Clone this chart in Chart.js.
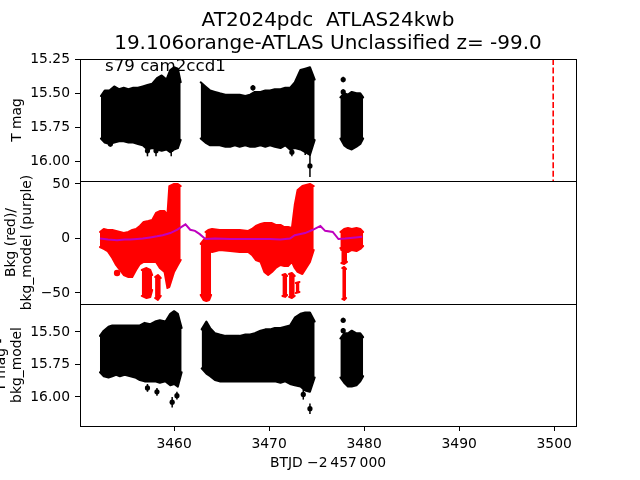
<!DOCTYPE html>
<html><head><meta charset="utf-8">
<script src="https://cdn.jsdelivr.net/npm/chart.js@4.4.1/dist/chart.umd.min.js"></script>
<style>
html,body{margin:0;padding:0;background:#fff;}
#wrap{position:relative;width:640px;height:480px;}
canvas{position:absolute;left:0;top:0;}
</style></head><body>
<div id="wrap">
<canvas id="c1" width="640" height="480"></canvas>
<canvas id="c2" width="640" height="480"></canvas>
<canvas id="c3" width="640" height="480"></canvas>
</div>
<script>
// ---------- text ----------
const titleLines = ['AT2024pdc  ATLAS24kwb', '19.106orange-ATLAS Unclassified z= -99.0'];
const sectorLabel = 's79 cam2ccd1';
const yLabelTop = 'T mag';
const yLabelMid = ['Bkg (red)/', 'bkg_model (purple)'];
const yLabelBot = ['T mag -', 'bkg_model'];
const xLabel = 'BTJD \u22122\u2009457\u2009000';

// ---------- axes ----------
const xMin = 3450.1, xMax = 3502.3;
const xTicks = [3460, 3470, 3480, 3490, 3500];
const topMin = 15.25, topMax = 16.14;
const topTicks = [15.25, 15.50, 15.75, 16.00];
const midMin = -60.1, midMax = 52.75;
const midTicks = [-50, 0, 50];
const botMin = 15.285, botMax = 16.223;
const botTicks = [15.50, 15.75, 16.00];
const discoveryT = 3499.9;

// ---------- top panel: T mag envelope (bright edge / faint edge) ----------
const magSeg1T = [3452.3,3452.7,3453.2,3453.7,3454.2,3454.7,3455.2,3455.7,3456.2,3456.7,3457.2,3457.7,3458.2,3458.7,3459.2,3459.6,3460.0,3460.4,3460.7];
const magSeg1Bright = [15.52,15.48,15.48,15.45,15.47,15.46,15.47,15.46,15.46,15.45,15.44,15.43,15.39,15.37,15.40,15.33,15.31,15.32,15.42];
const magSeg1Faint = [15.83,15.86,15.87,15.86,15.85,15.85,15.86,15.86,15.87,15.88,15.91,15.90,15.91,15.92,15.91,15.93,15.91,15.90,15.84];
const magSeg2T = [3462.8,3463.3,3463.8,3464.3,3464.8,3465.4,3465.9,3466.4,3466.9,3467.5,3468.0,3468.5,3469.1,3469.6,3470.1,3470.6,3471.2,3471.7,3472.2,3472.7,3473.3,3473.8,3474.3,3474.8];
const magSeg2Bright = [15.42,15.45,15.48,15.49,15.50,15.51,15.51,15.51,15.51,15.52,15.51,15.49,15.49,15.48,15.48,15.47,15.47,15.46,15.46,15.42,15.33,15.32,15.31,15.40];
const magSeg2Faint = [15.83,15.86,15.88,15.88,15.88,15.89,15.89,15.88,15.89,15.88,15.89,15.89,15.88,15.89,15.88,15.89,15.90,15.88,15.91,15.90,15.91,15.93,15.95,15.84];
const magSeg3T = [3477.5,3477.9,3478.3,3478.7,3479.2,3479.6,3479.9];
const magSeg3Bright = [15.53,15.50,15.51,15.49,15.50,15.50,15.53];
const magSeg3Faint = [15.83,15.88,15.90,15.91,15.89,15.87,15.83];
const magOutT = [3457.2,3458.1,3459.7,3472.4,3473.8,3474.3,3468.3,3477.8,3477.8,3453.3];
const magOutV = [15.92,15.92,15.91,15.93,15.91,16.03,15.46,15.40,15.49,15.87];
const magOutE = [0.04,0.04,0.05,0.03,0.04,0.08,0.02,0.02,0.02,0.02];

// ---------- middle panel: background (red) ----------
const bkgSeg1T = [3452.2,3452.6,3453.0,3453.5,3453.9,3454.3,3454.7,3455.2,3455.6,3456.0,3456.4,3456.8,3457.3,3457.7,3458.1,3458.5,3459.0,3459.3,3459.5,3460.0,3460.4,3460.7];
const bkgSeg1Hi = [6.0,8.7,7.8,7.8,6.9,6.0,5.0,6.0,7.8,8.7,11.5,15.1,16.0,17.0,23.4,25.2,25.2,21.5,48.1,50.0,50.0,48.1];
const bkgSeg1Lo = [-7.8,-9.6,-11.5,-17.9,-24.3,-28.9,-33.5,-35.3,-35.3,-28.9,-23.4,-21.5,-21.5,-21.5,-21.5,-27.1,-30.7,-45.4,-44.5,-30.7,-24.3,-19.7];
const bkgSeg2T = [3463.3,3463.6,3464.0,3464.8,3465.9,3466.9,3467.8,3468.2,3468.6,3469.1,3469.5,3469.9,3470.3,3470.7,3471.2,3471.6,3472.0,3472.4,3472.7,3473.0,3473.5,3473.9,3474.3,3474.7];
const bkgSeg2Hi = [6.0,7.8,8.7,7.8,7.8,7.8,6.9,8.7,11.5,13.3,14.2,14.2,14.2,12.4,12.4,10.5,10.5,9.6,30.7,44.5,48.1,49.1,50.0,48.1];
const bkgSeg2Lo = [-8.7,-10.5,-12.4,-10.5,-11.5,-12.4,-12.4,-15.1,-19.7,-21.5,-30.7,-33.5,-30.7,-27.1,-24.3,-25.2,-25.2,-21.5,-27.1,-30.7,-32.6,-27.1,-21.5,-10.5];
const bkgSeg3T = [3477.5,3477.9,3478.3,3478.7,3479.2,3479.6,3479.9];
const bkgSeg3Hi = [6.0,8.7,9.6,8.7,9.6,8.7,6.0];
const bkgSeg3Lo = [-8.7,-12.4,-12.4,-10.5,-11.5,-9.6,-6.9];
// detached dips of the background
const dipAT = [3456.6,3457.1,3457.5,3457.7]; const dipAHi = [-28.9,-27.1,-28.9,-33.5]; const dipALo = [-52.7,-54.6,-53.6,-47.2];
const dipBT = [3458.0,3458.3,3458.6]; const dipBHi = [-35.3,-33.5,-36.2]; const dipBLo = [-54.6,-56.4,-52.7];
const dipCT = [3462.8,3463.1,3463.4,3463.7,3463.9]; const dipCHi = [-5.0,-1.4,0.5,2.3,-1.4]; const dipCLo = [-51.8,-56.4,-57.3,-56.4,-51.8];
const dipDT = [3471.4,3471.7,3471.9]; const dipDHi = [-33.5,-32.6,-34.4]; const dipDLo = [-52.7,-53.6,-51.8];
const dipET = [3472.1,3472.4,3472.7]; const dipEHi = [-32.6,-31.6,-34.4]; const dipELo = [-53.6,-54.6,-52.7];
const dipFT = [3472.8,3473.2]; const dipFHi = [-40.8,-39.9]; const dipFLo = [-50.0,-49.1];
const dipGT = [3477.6,3477.9,3478.2]; const dipGHi = [-10.5,-10.5,-12.4]; const dipGLo = [-22.5,-23.4,-21.5];
const dipHT = [3477.7,3477.9,3478.1]; const dipHHi = [-27.1,-26.1,-28.0]; const dipHLo = [-55.5,-56.4,-54.6];
const bkgDotT = [3454.0]; const bkgDotV = [-31.6];
// background model (purple)
const modelT = [3452.2,3453.05,3454.0,3454.8,3455.4,3456.1,3456.7,3457.5,3458.2,3458.8,3459.6,3460.3,3461.2,3461.7,3462.2,3462.7,3463.3,3464.3,3465.9,3468.0,3470.1,3471.2,3472.2,3472.7,3473.8,3474.6,3475.4,3475.9,3476.7,3477.3,3478.0,3479.1,3479.8];
const modelV = [0,-1,-1.5,-1,-1,-0.5,0,1,2,3,5,8,13,8,7,4,-0.5,0,-0.5,-0.5,-0.5,-1,0,3,5,8,11.5,7,6,-0.5,0,1,1.5];

// ---------- bottom panel: T mag - bkg_model ----------
const corSeg1T = [3452.2,3452.6,3453.1,3453.5,3453.9,3454.3,3454.8,3455.4,3455.9,3456.4,3456.9,3457.5,3458.0,3458.5,3459.1,3459.6,3460.0,3460.4,3460.8];
const corSeg1Bright = [15.53,15.49,15.46,15.45,15.45,15.45,15.45,15.45,15.45,15.45,15.43,15.44,15.42,15.41,15.42,15.36,15.34,15.36,15.47];
const corSeg1Faint = [15.81,15.84,15.85,15.84,15.83,15.84,15.83,15.84,15.85,15.87,15.88,15.88,15.88,15.89,15.88,15.91,15.90,15.92,15.81];
const corSeg2T = [3462.9,3463.4,3463.8,3464.3,3464.8,3465.4,3465.9,3466.4,3466.9,3467.5,3468.0,3468.5,3469.1,3469.6,3470.1,3470.6,3471.2,3471.7,3472.2,3472.7,3473.3,3473.8,3474.3,3474.8];
const corSeg2Bright = [15.48,15.42,15.47,15.51,15.52,15.53,15.53,15.53,15.53,15.52,15.52,15.51,15.49,15.48,15.48,15.47,15.47,15.46,15.45,15.39,15.36,15.35,15.35,15.42];
const corSeg2Faint = [15.78,15.82,15.84,15.87,15.88,15.88,15.88,15.88,15.88,15.88,15.88,15.88,15.88,15.88,15.88,15.88,15.89,15.88,15.90,15.91,15.92,15.95,15.96,15.85];
const corSeg3T = [3477.5,3477.9,3478.3,3478.7,3479.2,3479.6,3479.9];
const corSeg3Bright = [15.55,15.51,15.51,15.49,15.51,15.51,15.54];
const corSeg3Faint = [15.85,15.89,15.92,15.92,15.91,15.88,15.84];
const corOutT = [3457.2,3458.2,3459.8,3460.3,3473.6,3474.3,3477.8,3477.8];
const corOutV = [15.93,15.96,16.04,15.99,15.98,16.09,15.41,15.49];
const corOutE = [0.03,0.03,0.04,0.03,0.04,0.04,0.02,0.02];

// ---------- helpers ----------
const BLACK = '#000000', RED = '#ff0000', PURPLE = '#bf00bf';
const FONT = 'DejaVu Sans';
Chart.defaults.font.family = FONT;
Chart.defaults.font.size = 13.89;
Chart.defaults.color = '#000';

const pts = (t, v) => t.map((x, i) => ({x: x, y: v[i]}));
function band(t, hi, lo, color, bw) {
  return [
    {data: pts(t, hi), borderColor: color, backgroundColor: color, borderWidth: bw, pointRadius: 0, fill: false, tension: 0, borderJoinStyle: 'round', borderCapStyle: 'round'},
    {data: pts(t, lo), borderColor: color, backgroundColor: color, borderWidth: bw, pointRadius: 0, fill: '-1', tension: 0, borderJoinStyle: 'round', borderCapStyle: 'round'}
  ];
}
function errPoints(t, v, e) {
  return {data: pts(t, v), errs: e, showLine: false, pointRadius: 2.6, pointBackgroundColor: BLACK, pointBorderColor: BLACK, pointBorderWidth: 0, borderColor: BLACK};
}
function tickSetter(list) { return s => { s.ticks = list.map(v => ({value: v})); }; }
function xScale(show) {
  const sc = {
    type: 'linear', min: xMin, max: xMax, display: show,
    afterBuildTicks: tickSetter(xTicks),
    ticks: {padding: 5, color: '#000', callback: v => String(v), maxRotation: 0},
    grid: {drawOnChartArea: false, drawTicks: true, tickLength: 5, color: '#000', lineWidth: 1},
    border: {display: false},
    title: {display: show, text: xLabel, color: '#000', font: {size: 13.89, lineHeight: 1.2}, padding: {top: 0, bottom: 8.7}}
  };
  if (show) sc.afterFit = s => { s.height = 54; };
  return sc;
}
function yScale(min, max, list, rev, fmt, label, padTop) {
  return {
    type: 'linear', min: min, max: max, reverse: rev,
    afterBuildTicks: tickSetter(list),
    afterFit: s => { s.width = 80; },
    ticks: {padding: 5, color: '#000', callback: fmt},
    grid: {drawOnChartArea: false, drawTicks: true, tickLength: 5, color: '#000', lineWidth: 1},
    border: {display: false},
    title: {display: true, text: label, color: '#000', font: {size: 13.89, lineHeight: 1.2}, padding: {top: padTop, bottom: 0}}
  };
}
const frame = {
  id: 'frame',
  afterDraw(chart) {
    const a = chart.chartArea, c = chart.ctx;
    const l = Math.round(a.left) + 0.5, t = Math.round(a.top) + 0.5;
    const r = Math.round(a.right) + 0.5, b = Math.round(a.bottom) + 0.5;
    c.save(); c.strokeStyle = '#000'; c.lineWidth = 1;
    c.strokeRect(l, t, r - l, b - t);
    c.restore();
  }
};
const errBars = {
  id: 'errBars',
  afterDatasetsDraw(chart) {
    const c = chart.ctx, xs = chart.scales.x, ys = chart.scales.y;
    c.save(); c.strokeStyle = '#000'; c.lineWidth = 1.5;
    chart.data.datasets.forEach(ds => {
      if (!ds.errs) return;
      ds.data.forEach((p, i) => {
        const px = xs.getPixelForValue(p.x);
        c.beginPath();
        c.moveTo(px, ys.getPixelForValue(p.y - ds.errs[i]));
        c.lineTo(px, ys.getPixelForValue(p.y + ds.errs[i]));
        c.stroke();
      });
    });
    c.restore();
  }
};
const sectorText = {
  id: 'sectorText',
  afterDraw(chart) {
    const a = chart.chartArea, c = chart.ctx;
    c.save(); c.fillStyle = '#000'; c.font = '16.67px "' + FONT + '"';
    c.textAlign = 'left'; c.textBaseline = 'alphabetic';
    c.fillText(sectorLabel, a.left + 25, a.top + 12);
    c.restore();
  }
};
const common = {
  responsive: false, animation: false, events: [],
  plugins: {legend: {display: false}, tooltip: {enabled: false}}
};
const fmt2 = v => v.toFixed(2);
const fmtInt = v => (v < 0 ? '\u2212' + Math.abs(v) : String(v));

// ---------- chart 1: T mag ----------
new Chart(document.getElementById('c1'), {
  type: 'line',
  data: {datasets: [
    errPoints(magOutT, magOutV, magOutE),
    {data: [{x: discoveryT, y: topMin}, {x: discoveryT, y: topMax}], borderColor: RED, borderWidth: 1.6, borderDash: [6, 2.6], pointRadius: 0, fill: false},
    ...band(magSeg1T, magSeg1Bright, magSeg1Faint, BLACK, 2),
    ...band(magSeg2T, magSeg2Bright, magSeg2Faint, BLACK, 2),
    ...band(magSeg3T, magSeg3Bright, magSeg3Faint, BLACK, 2)
  ]},
  options: Object.assign({}, common, {
    layout: {padding: {left: 0, right: 64, top: 0, bottom: 299}},
    plugins: {legend: {display: false}, tooltip: {enabled: false},
      title: {display: true, fullSize: false, text: titleLines, color: '#000', font: {size: 20, weight: 'normal', lineHeight: 1.15}, padding: {top: 9.5, bottom: 3.5}}},
    scales: {x: xScale(false), y: yScale(topMin, topMax, topTicks, true, fmt2, yLabelTop, 8.7)}
  }),
  plugins: [frame, errBars, sectorText]
});

// ---------- chart 2: background ----------
new Chart(document.getElementById('c2'), {
  type: 'line',
  data: {datasets: [
    {data: pts(modelT, modelV), borderColor: PURPLE, borderWidth: 2, pointRadius: 0, fill: false, tension: 0},
    {data: pts(bkgDotT, bkgDotV), showLine: false, pointRadius: 3.2, pointBackgroundColor: RED, pointBorderWidth: 0},
    ...band(bkgSeg1T, bkgSeg1Hi, bkgSeg1Lo, RED, 2),
    ...band(bkgSeg2T, bkgSeg2Hi, bkgSeg2Lo, RED, 2),
    ...band(bkgSeg3T, bkgSeg3Hi, bkgSeg3Lo, RED, 2),
    ...band(dipAT, dipAHi, dipALo, RED, 2),
    ...band(dipBT, dipBHi, dipBLo, RED, 2),
    ...band(dipCT, dipCHi, dipCLo, RED, 2),
    ...band(dipDT, dipDHi, dipDLo, RED, 2),
    ...band(dipET, dipEHi, dipELo, RED, 2),
    ...band(dipFT, dipFHi, dipFLo, RED, 2),
    ...band(dipGT, dipGHi, dipGLo, RED, 2),
    ...band(dipHT, dipHHi, dipHLo, RED, 2)
  ]},
  options: Object.assign({}, common, {
    layout: {padding: {left: 0, right: 64, top: 181, bottom: 176}},
    scales: {x: xScale(false), y: yScale(midMin, midMax, midTicks, false, fmtInt, yLabelMid, 2.7)}
  }),
  plugins: [frame]
});

// ---------- chart 3: corrected mag ----------
new Chart(document.getElementById('c3'), {
  type: 'line',
  data: {datasets: [
    errPoints(corOutT, corOutV, corOutE),
    ...band(corSeg1T, corSeg1Bright, corSeg1Faint, BLACK, 2),
    ...band(corSeg2T, corSeg2Bright, corSeg2Faint, BLACK, 2),
    ...band(corSeg3T, corSeg3Bright, corSeg3Faint, BLACK, 2)
  ]},
  options: Object.assign({}, common, {
    layout: {padding: {left: 0, right: 64, top: 304, bottom: 0}},
    scales: {x: xScale(true), y: yScale(botMin, botMax, botTicks, true, fmt2, yLabelBot, -7.3)}
  }),
  plugins: [frame, errBars]
});
</script>
</body></html>
